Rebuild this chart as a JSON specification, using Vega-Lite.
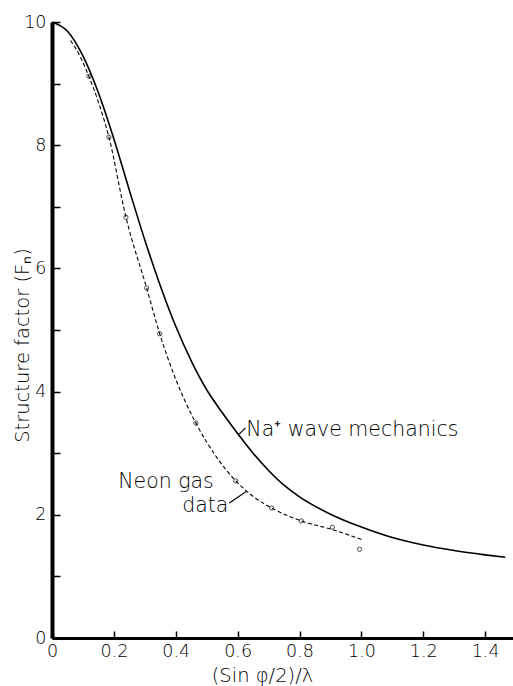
{
  "$schema": "https://vega.github.io/schema/vega-lite/v6.json",
  "width": 461,
  "height": 616,
  "autosize": {"type": "none"},
  "padding": {"left": 52, "top": 22, "right": 0, "bottom": 48},
  "background": "white",
  "config": {
    "view": {"stroke": null},
    "font": "DejaVu Sans",
    "axis": {
      "grid": false,
      "domainColor": "black",
      "tickColor": "black",
      "labelColor": "black",
      "titleColor": "black",
      "labelFont": "DejaVu Sans",
      "titleFont": "DejaVu Sans",
      "labelFontWeight": 200,
      "titleFontWeight": 200,
      "labelFontSize": 17.5,
      "titleFontSize": 19.5
    }
  },
  "datasets": {
    "na": [
      {"s": 0.0, "f": 10.0},
      {"s": 0.05, "f": 9.85},
      {"s": 0.1, "f": 9.45},
      {"s": 0.15, "f": 8.85},
      {"s": 0.2, "f": 8.1},
      {"s": 0.25, "f": 7.27},
      {"s": 0.3, "f": 6.46},
      {"s": 0.35, "f": 5.72},
      {"s": 0.4, "f": 5.06},
      {"s": 0.45, "f": 4.5},
      {"s": 0.5, "f": 4.03},
      {"s": 0.55, "f": 3.66},
      {"s": 0.6, "f": 3.32},
      {"s": 0.65, "f": 3.0},
      {"s": 0.7, "f": 2.72},
      {"s": 0.75, "f": 2.48},
      {"s": 0.8, "f": 2.29},
      {"s": 0.9, "f": 2.01},
      {"s": 1.0, "f": 1.8},
      {"s": 1.1, "f": 1.63},
      {"s": 1.2, "f": 1.51},
      {"s": 1.3, "f": 1.42},
      {"s": 1.4, "f": 1.35},
      {"s": 1.465, "f": 1.31}
    ],
    "neon": [
      {"s": 0.06, "f": 9.7},
      {"s": 0.09, "f": 9.45},
      {"s": 0.119, "f": 9.12},
      {"s": 0.15, "f": 8.7},
      {"s": 0.184, "f": 8.13},
      {"s": 0.239, "f": 6.83},
      {"s": 0.306, "f": 5.68},
      {"s": 0.348, "f": 4.94},
      {"s": 0.4, "f": 4.2},
      {"s": 0.465, "f": 3.49},
      {"s": 0.53, "f": 2.95},
      {"s": 0.594, "f": 2.55},
      {"s": 0.65, "f": 2.3},
      {"s": 0.71, "f": 2.11},
      {"s": 0.806, "f": 1.9},
      {"s": 0.906, "f": 1.76},
      {"s": 1.0, "f": 1.6}
    ],
    "obs": [
      {"s": 0.119, "f": 9.12},
      {"s": 0.184, "f": 8.13},
      {"s": 0.239, "f": 6.83},
      {"s": 0.306, "f": 5.68},
      {"s": 0.348, "f": 4.94},
      {"s": 0.465, "f": 3.49},
      {"s": 0.594, "f": 2.55},
      {"s": 0.71, "f": 2.11},
      {"s": 0.806, "f": 1.9},
      {"s": 0.906, "f": 1.8},
      {"s": 0.994, "f": 1.44}
    ],
    "notes": [
      {"s": 0.628, "f": 3.38, "text": "Na⁺ wave mechanics", "base": "middle"},
      {"s": 0.214, "f": 2.53, "text": "Neon gas", "base": "alphabetic"},
      {"s": 0.421, "f": 2.14, "text": "data", "base": "alphabetic"}
    ],
    "arrows": [
      {"s": 0.625, "s2": 0.605, "f": 3.41, "f2": 3.31},
      {"s": 0.573, "s2": 0.628, "f": 2.19, "f2": 2.38}
    ]
  },
  "layer": [
    {
      "data": {"name": "na"},
      "mark": {"type": "line", "color": "black", "strokeWidth": 1.6, "interpolate": "monotone"},
      "encoding": {
        "x": {
          "field": "s", "type": "quantitative",
          "scale": {"domain": [0, 1.49], "nice": false, "zero": false},
          "axis": {
            "title": "(Sin φ/2)/λ",
            "titleX": 210,
            "titleY": 37,
            "titleBaseline": "middle",
            "values": [0, 0.1, 0.2, 0.3, 0.4, 0.5, 0.6, 0.7, 0.8, 0.9, 1.0, 1.1, 1.2, 1.3, 1.4],
            "labelExpr": "round(datum.value * 10) % 2 ? '' : (datum.value == 0 ? '0' : format(datum.value, '.1f'))",
            "domainWidth": 3,
            "tickWidth": 1.5,
            "tickSize": -7,
            "labelPadding": 11,
            "labelFlush": false,
            "labelOverlap": false
          }
        },
        "y": {
          "field": "f", "type": "quantitative",
          "scale": {"domain": [0, 10], "nice": false},
          "axis": {
            "title": "Structure factor (Fₙ)",
            "titleX": -30,
            "titleY": 323,
            "titleAlign": "center",
            "titleBaseline": "middle",
            "values": [0, 1, 2, 3, 4, 5, 6, 7, 8, 9, 10],
            "labelExpr": "datum.value % 2 ? '' : format(datum.value, 'd')",
            "domainWidth": 4,
            "tickWidth": 1.5,
            "tickSize": -8,
            "labelPadding": 14,
            "labelFlush": false,
            "labelOverlap": false
          }
        }
      }
    },
    {
      "data": {"name": "neon"},
      "mark": {"type": "line", "color": "black", "strokeWidth": 1.1, "strokeDash": [4, 2.5], "interpolate": "monotone"},
      "encoding": {
        "x": {"field": "s", "type": "quantitative"},
        "y": {"field": "f", "type": "quantitative"}
      }
    },
    {
      "data": {"name": "obs"},
      "mark": {"type": "point", "shape": "circle", "filled": false, "color": "black", "size": 18, "strokeWidth": 1},
      "encoding": {
        "x": {"field": "s", "type": "quantitative"},
        "y": {"field": "f", "type": "quantitative"}
      }
    },
    {
      "data": {"name": "arrows"},
      "mark": {"type": "rule", "color": "black", "strokeWidth": 1.2},
      "encoding": {
        "x": {"field": "s", "type": "quantitative"},
        "x2": {"field": "s2"},
        "y": {"field": "f", "type": "quantitative"},
        "y2": {"field": "f2"}
      }
    },
    {
      "data": {"name": "notes"},
      "mark": {"type": "text", "align": "left", "fontSize": 20.5, "fontWeight": 200, "font": "DejaVu Sans", "color": "black"},
      "encoding": {
        "x": {"field": "s", "type": "quantitative"},
        "y": {"field": "f", "type": "quantitative"},
        "text": {"field": "text"},
        "baseline": {"field": "base", "type": "nominal", "scale": null}
      }
    }
  ]
}
